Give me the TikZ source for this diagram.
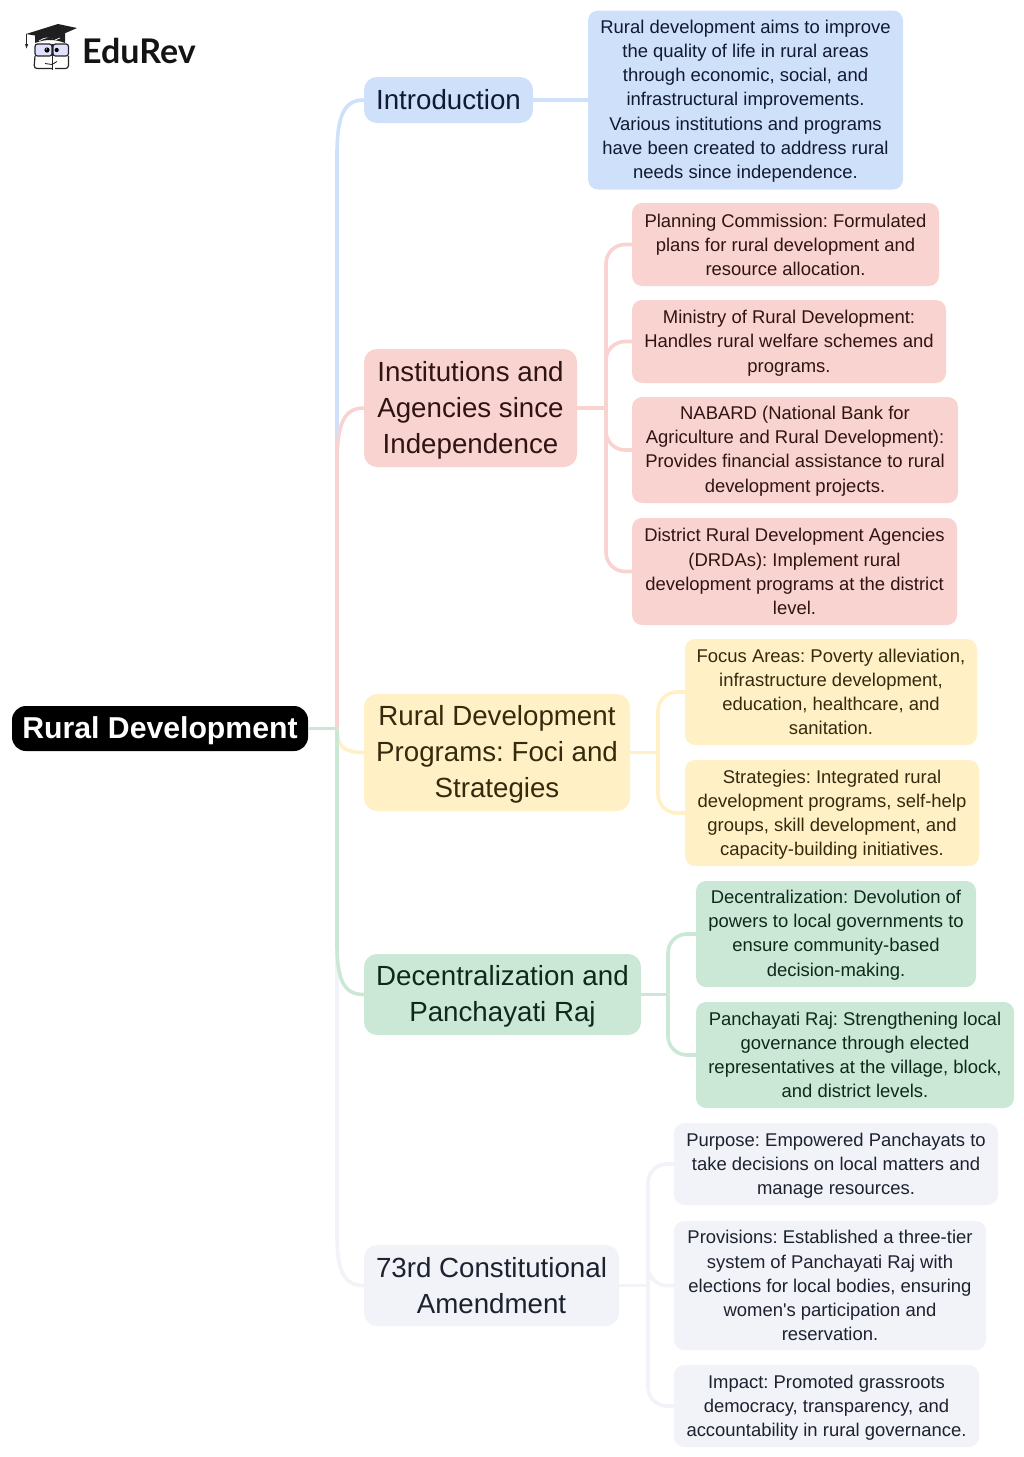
\documentclass[tikz,border=0pt]{standalone}
\usepackage{fontspec}
\usetikzlibrary{calc}
\setmainfont{Liberation Sans}
\newfontfamily\logofont{Lato}
\newfontfamily\plainf{Liberation Sans}
\frenchspacing
\definecolor{bluef}{HTML}{CFE0FB}\definecolor{bluet}{HTML}{101A30}
\definecolor{pinkf}{HTML}{F9D3D0}\definecolor{pinkt}{HTML}{301414}
\definecolor{yelf}{HTML}{FFF0C6}\definecolor{yelt}{HTML}{352A0C}
\definecolor{grnf}{HTML}{CBE8D6}\definecolor{grnt}{HTML}{10281C}
\definecolor{gryf}{HTML}{F2F3F8}\definecolor{gryt}{HTML}{1C2230}
\tikzset{
  boxn/.style={rounded corners=10pt,inner sep=0pt,align=center},
  leaf/.style={boxn,font=\frenchspacing\fontsize{18.45}{24.1}\selectfont},
  main/.style={boxn,rounded corners=13pt,font=\frenchspacing\fontsize{27.7}{36.1}\selectfont},
  conn/.style={line width=3.6pt,rounded corners=19pt},
  cb/.style={fill=bluef,text=bluet},cp/.style={fill=pinkf,text=pinkt},
  cy/.style={fill=yelf,text=yelt},cg/.style={fill=grnf,text=grnt},
  cn/.style={fill=gryf,text=gryt}
}
\newcommand{\bx}[7]{%
  \pgfmathsetmacro{\bw}{#4-#2}\pgfmathsetmacro{\bh}{#5-#3}%
  \pgfmathsetmacro{\bcx}{(#2+#4)/2}\pgfmathsetmacro{\bcy}{(#3+#5)/2}%
  \node[#6,minimum width=\bw pt,minimum height=\bh pt] (#1) at (\bcx,\bcy) {#7};}
% pushes the text of a box down by #1 (first-line strut)
\newcommand{\dn}[1]{\rule{0pt}{\dimexpr 13.7pt+#1pt+#1pt\relax}}
\newcommand{\dm}{\rule{0pt}{24.4pt}}
% spine branch: #1 node, #2 colour, #3 signed run of the curve
\newcommand{\spn}[3]{\draw[conn,rounded corners=0pt,draw=#2] (sp) -- ($(sp |- #1.west)+(0,#3)$)
  .. controls ($(sp |- #1.west)+(0,#3*0.25)$) and ($(sp |- #1.west)+(8,0)$) .. (#1.west);}
\begin{document}
\begin{tikzpicture}[x=1pt,y=-1pt]
\useasboundingbox (0,0) rectangle (1024,1457);
% boxes
\bx{root}{12}{706}{308}{751}{boxn,rounded corners=14pt,fill=black,text=white,font=\frenchspacing\fontsize{30.2}{36}\selectfont\bfseries}{\rule{0pt}{25.5pt}Rural Development}
\bx{intro}{364}{77}{533}{123}{main,cb}{Introduction}
\bx{inst}{364}{349}{577}{467}{main,cp}{\dm Institutions and\\Agencies since\\Independence}
\bx{prog}{364}{694}{630}{811}{main,cy}{\dm Rural Development\\Programs: Foci and\\Strategies}
\bx{dec}{364}{954}{641}{1035}{main,cg}{\dm Decentralization and\\Panchayati Raj}
\bx{amd}{364}{1245}{619}{1326}{main,cn}{\rule{0pt}{18pt}73rd Constitutional\\Amendment}
\bx{il}{588}{10.5}{903}{189.5}{leaf,cb}{\dn{1}Rural development aims to improve\\the quality of life in rural areas\\through economic, social, and\\infrastructural improvements.\\Various institutions and programs\\have been created to address rural\\needs since independence.}
\bx{p1}{632}{203}{939}{286}{leaf,cp}{Planning Commission: Formulated\\plans for rural development and\\resource allocation.}
\bx{p2}{632}{300}{946}{383}{leaf,cp}{\dn{1.5}Ministry of Rural Development:\\Handles rural welfare schemes and\\programs.}
\bx{p3}{632}{397}{958}{503}{leaf,cp}{\dn{1}NABARD (National Bank for\\Agriculture and Rural Development):\\Provides financial assistance to rural\\development projects.}
\bx{p4}{632}{518}{957}{625}{leaf,cp}{District Rural Development Agencies\\(DRDAs): Implement rural\\development programs at the district\\level.}
\bx{y1}{685}{639}{977}{745}{leaf,cy}{Focus Areas: Poverty alleviation,\\infrastructure development,\\education, healthcare, and\\sanitation.}
\bx{y2}{685}{760}{979}{866}{leaf,cy}{\dn{1.5}Strategies: Integrated rural\\development programs, self-help\\groups, skill development, and\\capacity-building initiatives.}
\bx{g1}{696}{881}{976}{987}{leaf,cg}{\dn{1}Decentralization: Devolution of\\powers to local governments to\\ensure community-based\\decision-making.}
\bx{g2}{696}{1002}{1014}{1108}{leaf,cg}{Panchayati Raj: Strengthening local\\governance through elected\\representatives at the village, block,\\and district levels.}
\bx{a1}{674}{1123}{998}{1205}{leaf,cn}{\dn{1.5}Purpose: Empowered Panchayats to\\take decisions on local matters and\\manage resources.}
\bx{a2}{674}{1221}{986}{1350}{leaf,cn}{Provisions: Established a three-tier\\system of Panchayati Raj with\\elections for local bodies, ensuring\\women{\plainf'}s participation and\\reservation.}
\bx{a3}{674}{1365}{979}{1447}{leaf,cn}{\dn{1.5}Impact: Promoted grassroots\\democracy, transparency, and\\accountability in rural governance.}
% junctions
\coordinate (sp) at (337,728.5);
\coordinate (tp) at (606,408);
\coordinate (ty) at (658,752.5);
\coordinate (tg) at (668,994.5);
\coordinate (tn) at (648,1285.5);
% connectors
\spn{amd}{gryf}{-50}
\spn{intro}{bluef}{55}
\spn{inst}{pinkf}{55}
\draw[conn,rounded corners=0pt,draw=yelf] (sp) .. controls ($(sp)+(0,18)$) and ($(prog.west)+(-20,0)$) .. (prog.west);
\spn{dec}{grnf}{-50}
\draw[conn,draw=grnf] (root.east) -- (sp);
\draw[conn,draw=bluef] (intro.east) -- (il.west);
\draw[conn,draw=pinkf] (inst.east) -- (tp);
\foreach \t in {p1,p2,p3,p4} \draw[conn,draw=pinkf] (tp) |- (\t.west);
\draw[conn,draw=yelf] (prog.east) -- (ty);
\foreach \t in {y1,y2} \draw[conn,draw=yelf] (ty) |- (\t.west);
\draw[conn,draw=grnf] (dec.east) -- (tg);
\foreach \t in {g1,g2} \draw[conn,draw=grnf] (tg) |- (\t.west);
\draw[conn,draw=gryf] (amd.east) -- (tn);
\foreach \t in {a1,a2,a3} \draw[conn,draw=gryf] (tn) |- (\t.west);
% logo
\fill[black!88] (35,34) -- (65,32) -- (65,43) .. controls (55,39) and (45,39) .. (35,43) -- cycle;
\draw[white,line width=.7pt] (39,41) .. controls (45,37) and (50,37) .. (53,38);
\draw[white,line width=.7pt] (55,40) -- (60,38);
\fill[black!88] (26,34) -- (58,24) -- (77,28) -- (53,38.5) -- cycle;
\draw[black!85,line width=.9pt] (26.5,34) -- (26.5,45);
\fill[black!85] (25,44) -- (28.2,44) -- (26.6,48.5) -- cycle;
\draw[black!85,line width=1.2pt,rounded corners=2.5pt,fill=blue!12] (35,44) rectangle (52,56);
\draw[black!85,line width=1.2pt,rounded corners=2.5pt,fill=blue!12] (53,44) rectangle (68.5,56);
\draw[black!85,line width=1.2pt,rounded corners=3pt] (35,56) -- (34,68.5) -- (52,68.5);
\draw[black!85,line width=1.2pt,rounded corners=3pt] (68.5,56) -- (68.5,68.5) -- (55,68.5);
\draw[black!85,line width=1pt] (52.5,44) -- (52.5,70);
\draw[black!85,line width=.9pt] (45,63.5) -- (52,64.5) -- (57,61.5);
\fill[black] (47,50) circle (2.6pt) (56.7,50) circle (2.1pt);
\fill[white] (46.2,49) circle (.7pt);
\node[inner sep=0pt,anchor=west,text=black!92,font=\logofont\fontsize{34}{36}\selectfont\bfseries] (logo) at (82,51) {EduRev};
\end{tikzpicture}
\end{document}
